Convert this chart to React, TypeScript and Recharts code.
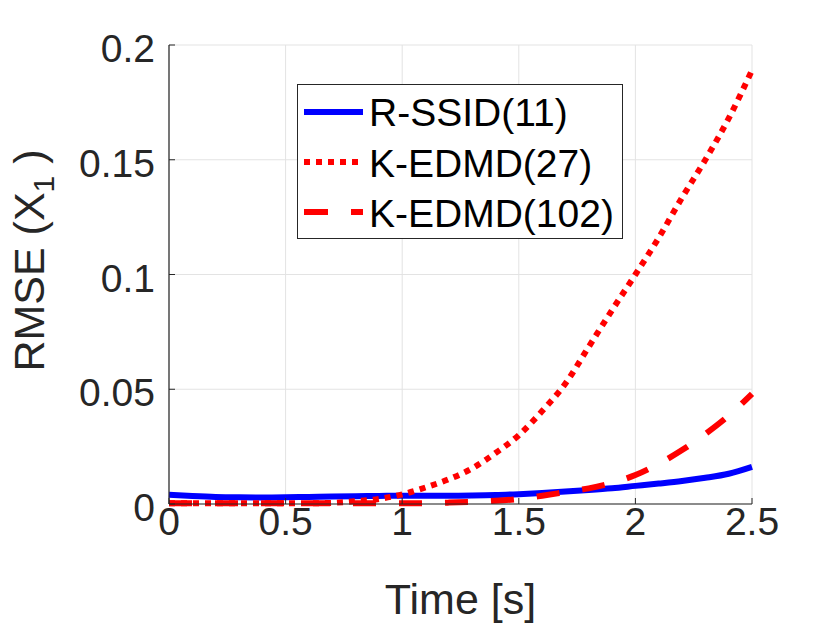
import React from "react";
import {
    LineChart,
    Line,
    XAxis,
    YAxis,
    CartesianGrid,
    Legend,
} from "recharts";

// time samples [s]
const time = [
    0, 0.1, 0.2, 0.3, 0.4, 0.5, 0.6, 0.7, 0.8, 0.9, 1.0, 1.1, 1.2,
    1.3, 1.4, 1.5, 1.6, 1.7, 1.8, 1.9, 2.0, 2.1, 2.2, 2.3, 2.4, 2.5,
];

const rssid = [
    0.0040, 0.0035, 0.0031, 0.0029, 0.0028, 0.0029, 0.0031, 0.0033, 0.0034,
    0.0035, 0.0036, 0.0036, 0.0036, 0.0037, 0.0039, 0.0043, 0.0048, 0.0054,
    0.0061, 0.0069, 0.0079, 0.0089, 0.0100, 0.0114, 0.0132, 0.0162,
];

const kedmd27 = [
    0.0003, 0.0003, 0.0003, 0.0003, 0.0003, 0.0003, 0.0003, 0.0005, 0.0012,
    0.0022, 0.0042, 0.0072, 0.0108, 0.0155, 0.0222, 0.0300, 0.0405, 0.0525,
    0.0685, 0.0845, 0.1000, 0.1160, 0.1335, 0.1500, 0.1680, 0.1890,
];

const kedmd102 = [
    0.0003, 0.0003, 0.0003, 0.0003, 0.0003, 0.0003, 0.0003, 0.0003, 0.0003,
    0.0003, 0.0003, 0.0004, 0.0006, 0.0009, 0.0014, 0.0022, 0.0036, 0.0052,
    0.0068, 0.0092, 0.0126, 0.0175, 0.0235, 0.0305, 0.0385, 0.0480,
];

const xTicks = [0, 0.5, 1, 1.5, 2, 2.5];
const yTicks = [0, 0.05, 0.1, 0.15, 0.2];

const seriesNames = ["R-SSID(11)", "K-EDMD(27)", "K-EDMD(102)"];

const data = time.map((t, i) => ({
    t,
    rssid: rssid[i],
    k27: kedmd27[i],
    k102: kedmd102[i],
}));

const FONT = "'Liberation Sans', Arial, Helvetica, sans-serif";
const AXIS = "#262626";
const TICK_LEN = 6;

const BottomTick = ({ x, y, payload }: any) => (
    <g>
        <line x1={x} y1={y} x2={x} y2={y - TICK_LEN} stroke={AXIS} strokeWidth={1} />
        <text x={x} y={y + 31} textAnchor="middle" fontSize={39} fontFamily={FONT} fill={AXIS}>
            {String(payload.value)}
        </text>
    </g>
);

const TopTick = ({ x, y }: any) => (
    <line x1={x} y1={y} x2={x} y2={y + TICK_LEN} stroke={AXIS} strokeWidth={1} />
);

const LeftTick = ({ x, y, payload }: any) => (
    <g>
        <line x1={x} y1={y} x2={x + TICK_LEN} y2={y} stroke={AXIS} strokeWidth={1} />
        <text x={x - 14} y={y + 17} textAnchor="end" fontSize={39} fontFamily={FONT} fill={AXIS}>
            {String(payload.value)}
        </text>
    </g>
);

const RightTick = ({ x, y }: any) => (
    <line x1={x} y1={y} x2={x - TICK_LEN} y2={y} stroke={AXIS} strokeWidth={1} />
);

const YLabel = ({ viewBox }: any) => {
    const cx = 44;
    const cy = viewBox.y + viewBox.height / 2 - 14;
    return (
        <text
            x={cx}
            y={cy}
            transform={`rotate(-90, ${cx}, ${cy})`}
            textAnchor="middle"
            fontSize={43}
            fontFamily={FONT}
            fill={AXIS}
        >
            RMSE (X
            <tspan fontSize={30} dy={10}>1</tspan>
            <tspan dy={-10} dx={12}>)</tspan>
        </text>
    );
};

const XLabel = ({ viewBox }: any) => (
    <text
        x={viewBox.x + viewBox.width / 2}
        y={viewBox.y + 110}
        textAnchor="middle"
        fontSize={43}
        fontFamily={FONT}
        fill={AXIS}
    >
        Time [s]
    </text>
);

const CustomLegend = () => {
    const styles = [
        { stroke: "#0000ff", dash: undefined },
        { stroke: "#ff0000", dash: "6 6" },
        { stroke: "#ff0000", dash: "24 23" },
    ];
    return (
        <svg width={326} height={155} style={{ display: "block" }}>
            <rect x={0.5} y={0.5} width={325} height={154} fill="#fff" stroke={AXIS} strokeWidth={1} />
            {seriesNames.map((name, i) => (
                <g key={name}>
                    <line
                        x1={7}
                        x2={66}
                        y1={28 + 50 * i}
                        y2={28 + 50 * i}
                        stroke={styles[i].stroke}
                        strokeWidth={6}
                        strokeDasharray={styles[i].dash}
                    />
                    <text x={72} y={42 + 50.5 * i} fontSize={39} fontFamily={FONT} fill="#000">
                        {name}
                    </text>
                </g>
            ))}
        </svg>
    );
};

export default function App() {
    return (
        <div style={{ position: "absolute", left: 0, top: 0, width: 830, height: 623, background: "#fff" }}>
            <LineChart
                width={830}
                height={623}
                data={data}
                margin={{ top: 45, right: 78, left: 0, bottom: 0 }}
            >
                <CartesianGrid stroke="#e3e3e3" strokeWidth={1} />

                <XAxis
                    dataKey="t"
                    type="number"
                    domain={[0, 2.5]}
                    ticks={xTicks}
                    interval={0}
                    height={119}
                    tickSize={0}
                    tickMargin={0}
                    tickLine={false}
                    tick={<BottomTick />}
                    axisLine={{ stroke: AXIS, strokeWidth: 1.2 }}
                    label={<XLabel />}
                />
                <XAxis
                    xAxisId="top"
                    orientation="top"
                    dataKey="t"
                    type="number"
                    domain={[0, 2.5]}
                    ticks={xTicks}
                    interval={0}
                    height={0}
                    tickSize={0}
                    tickMargin={0}
                    tickLine={false}
                    tick={<TopTick />}
                    axisLine={{ stroke: AXIS, strokeWidth: 1.2 }}
                />

                <YAxis
                    type="number"
                    domain={[0, 0.2]}
                    ticks={yTicks}
                    interval={0}
                    width={169}
                    tickSize={0}
                    tickMargin={0}
                    tickLine={false}
                    tick={<LeftTick />}
                    axisLine={{ stroke: AXIS, strokeWidth: 1.2 }}
                    label={<YLabel />}
                />
                <YAxis
                    yAxisId="right"
                    orientation="right"
                    type="number"
                    domain={[0, 0.2]}
                    ticks={yTicks}
                    interval={0}
                    width={0}
                    tickSize={0}
                    tickMargin={0}
                    tickLine={false}
                    tick={<RightTick />}
                    axisLine={{ stroke: AXIS, strokeWidth: 1.2 }}
                />

                <Legend
                    layout="horizontal"
                    verticalAlign="middle"
                    align="center"
                    content={<CustomLegend />}
                    wrapperStyle={{ position: "absolute", left: 297, top: 84, width: 326, height: 155 }}
                />

                <Line
                    type="monotone"
                    dataKey="rssid"
                    name={seriesNames[0]}
                    stroke="#0000ff"
                    strokeWidth={6}
                    dot={false}
                    activeDot={false}
                    isAnimationActive={false}
                />
                <Line
                    type="monotone"
                    dataKey="k27"
                    name={seriesNames[1]}
                    stroke="#ff0000"
                    strokeWidth={6}
                    strokeDasharray="6 6"
                    dot={false}
                    activeDot={false}
                    isAnimationActive={false}
                />
                <Line
                    type="monotone"
                    dataKey="k102"
                    name={seriesNames[2]}
                    stroke="#ff0000"
                    strokeWidth={6}
                    strokeDasharray="23 23"
                    dot={false}
                    activeDot={false}
                    isAnimationActive={false}
                />
            </LineChart>
        </div>
    );
}
